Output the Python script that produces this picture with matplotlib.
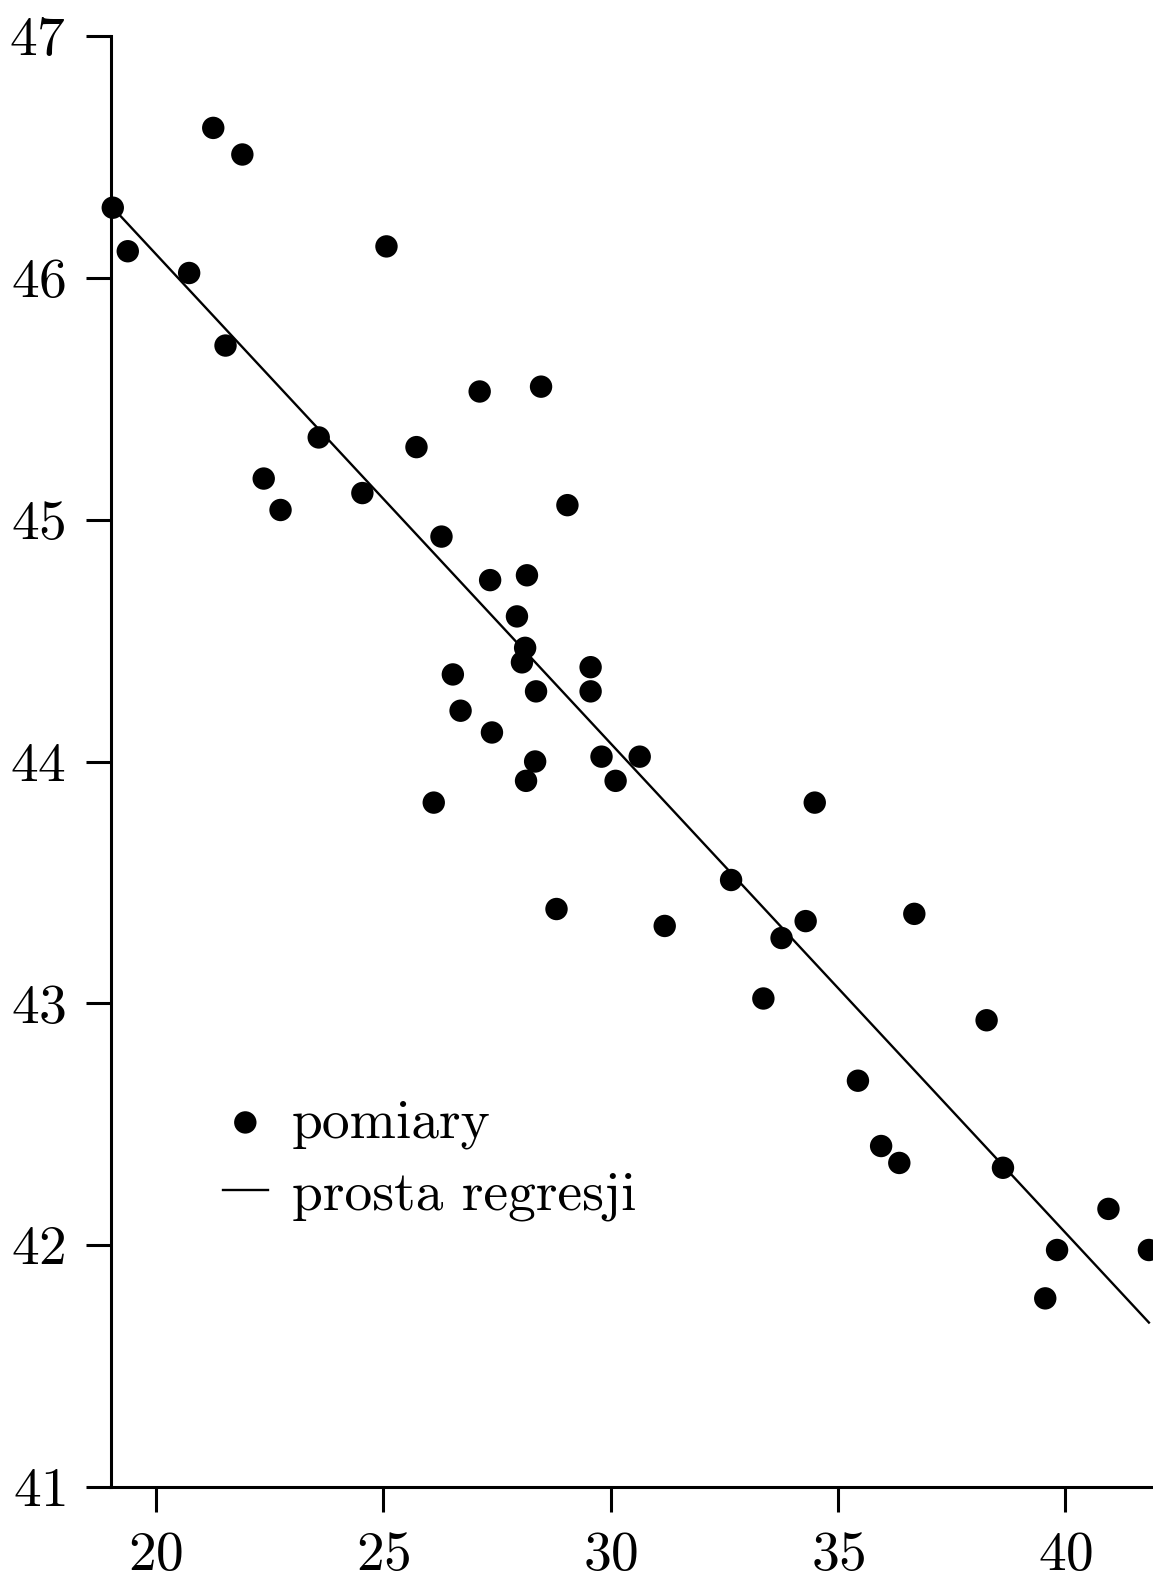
import matplotlib
matplotlib.use('Agg')
import matplotlib.pyplot as plt
import numpy as np

# czcionka w stylu LaTeX (Computer Modern)
plt.rcParams['font.family'] = 'serif'
plt.rcParams['font.serif'] = ['cmr10']
plt.rcParams['mathtext.fontset'] = 'cm'
plt.rcParams['axes.formatter.use_mathtext'] = True

x = [19.05, 19.38, 21.26, 21.90, 20.73, 21.53, 22.37, 22.74, 23.58, 24.54,
     25.07, 25.73, 26.28, 27.12, 28.47, 29.05, 27.35, 28.16, 27.94, 28.12,
     28.05, 28.36, 26.53, 26.70, 27.39, 29.56, 29.56, 28.34, 28.14, 26.11,
     29.80, 30.11, 30.64, 28.81, 31.19, 32.65, 34.49, 33.76, 34.29, 33.36,
     36.68, 38.27, 35.44, 35.95, 36.35, 38.63, 40.95, 39.82, 41.84, 39.56]
y = [46.29, 46.11, 46.62, 46.51, 46.02, 45.72, 45.17, 45.04, 45.34, 45.11,
     46.13, 45.30, 44.93, 45.53, 45.55, 45.06, 44.75, 44.77, 44.60, 44.47,
     44.41, 44.29, 44.36, 44.21, 44.12, 44.39, 44.29, 44.00, 43.92, 43.83,
     44.02, 43.92, 44.02, 43.39, 43.32, 43.51, 43.83, 43.27, 43.34, 43.02,
     43.37, 42.93, 42.68, 42.41, 42.34, 42.32, 42.15, 41.98, 41.98, 41.78]

# prosta regresji - końce odcinka
line_x = [19.05, 41.84]
line_y = [46.29, 41.68]

xticks = [20, 25, 30, 35, 40]
yticks = [41, 42, 43, 44, 45, 46, 47]

fig = plt.figure(figsize=(11.53, 15.73), dpi=100)
ax = fig.add_axes([110.5 / 1153, 86 / 1573, 1 - 110.5 / 1153, (1487 - 36) / 1573])

pts = ax.scatter(x, y, s=260, color='black', edgecolors='none', label='pomiary',
                 clip_on=False, zorder=3)
ln, = ax.plot(line_x, line_y, color='black', lw=1.7, label='prosta regresji', zorder=2)

ax.set_xlim(19, 41.93)
ax.set_ylim(41, 47)
ax.set_xticks(xticks)
ax.set_yticks(yticks)

for s in ['top', 'right']:
    ax.spines[s].set_visible(False)
for s in ['left', 'bottom']:
    ax.spines[s].set_linewidth(2.2)

ax.tick_params(axis='both', direction='out', length=18, width=2.2,
               labelsize=40, pad=14)

ax.legend(handles=[pts, ln], loc='upper left', bbox_to_anchor=(0.108, 0.268),
          frameon=False, fontsize=40, handlelength=0.8, handletextpad=0.44,
          labelspacing=0.39, borderaxespad=0, borderpad=0)

fig.savefig('out.png', dpi=100)
